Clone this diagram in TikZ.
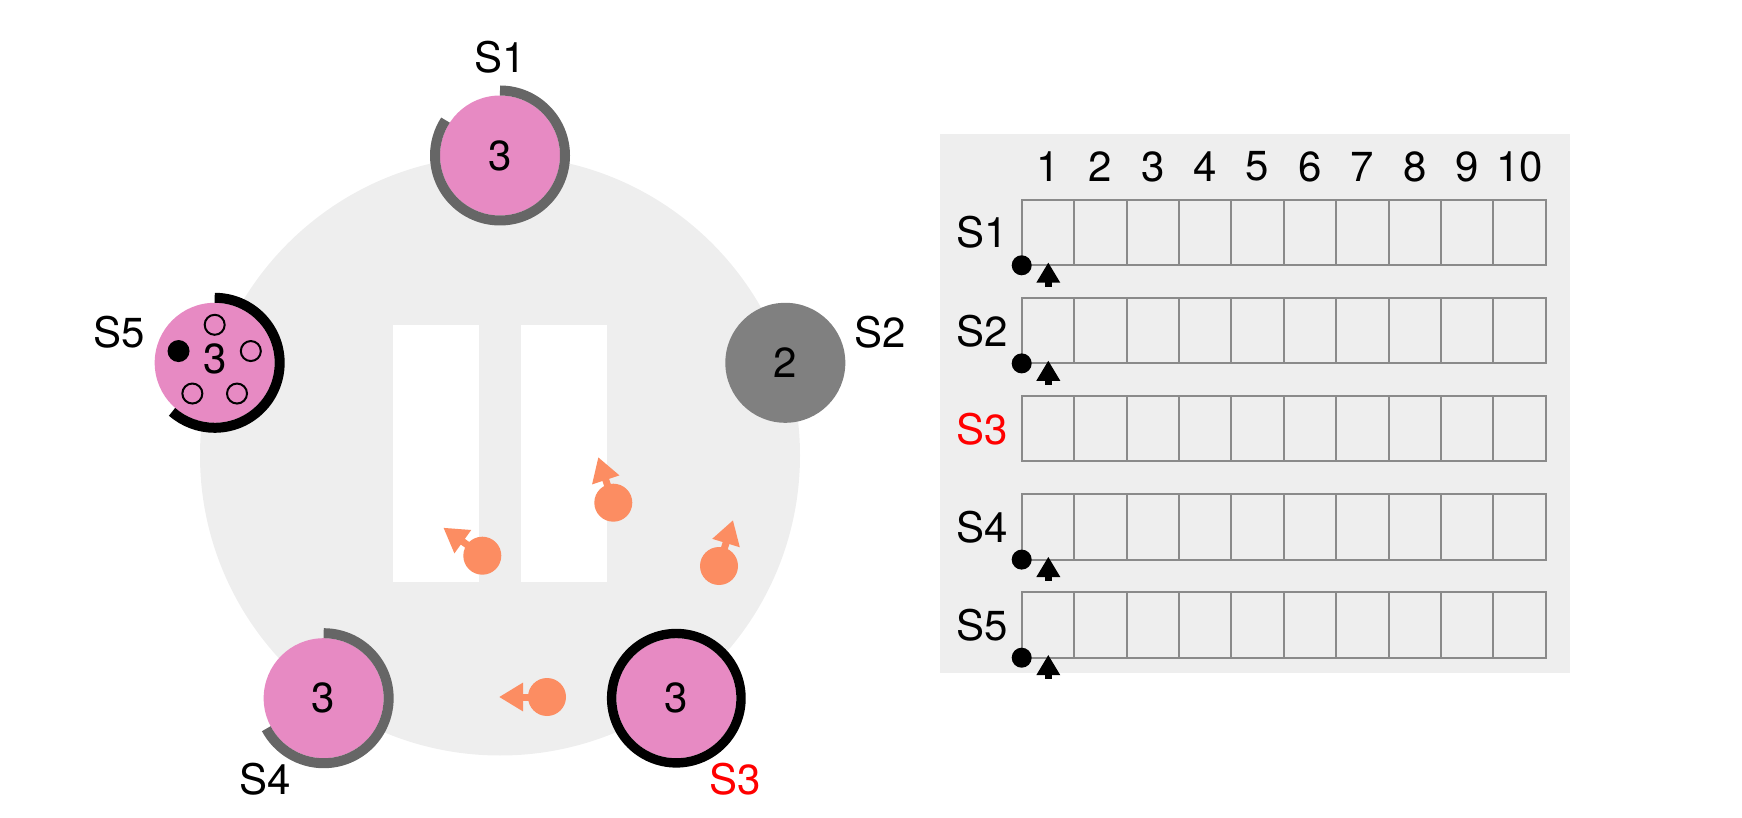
\documentclass[tikz,border=0pt]{standalone}
\usepackage{fontspec}
\setmainfont{TeX Gyre Heros}
\usetikzlibrary{arrows.meta}
\definecolor{pinkc}{HTML}{E78AC3}
\definecolor{orangec}{HTML}{FC8D62}
\definecolor{bgc}{HTML}{EEEEEE}
\definecolor{ringc}{HTML}{666666}
\definecolor{darkc}{HTML}{808080}
\definecolor{gridc}{HTML}{8A8A8A}
\begin{document}
\begin{tikzpicture}[x=0.5pt,y=-0.5pt,
  lbl/.style={font=\fontsize{21}{25}\selectfont, inner sep=0pt},
  srv/.style={circle, minimum size=60pt, inner sep=0pt, fill=pinkc, font=\fontsize{21}{25}\selectfont},
  ring/.style={line width=5pt},
  odot/.style={circle, fill=orangec, minimum size=19pt, inner sep=0pt},
  oarr/.style={orangec, line width=3.5pt, -{Triangle[length=12pt,width=13.5pt]}},
  cell/.style={gridc, line width=1pt}]
\useasboundingbox (0,0) rectangle (1742,818);
% ring area
\coordinate (C) at (500,455.5);
\fill[bgc] (C) circle[radius=150pt];
\fill[white] (392.7,325) rectangle (478.7,582.3);
\fill[white] (521.3,325) rectangle (607,582.3);
% servers
\node[srv] (S1) at ([shift={(90:150pt)}]C) {3};
\node[srv, fill=darkc] (S2) at ([shift={(18:150pt)}]C) {2};
\node[srv] (S3) at ([shift={(-54:150pt)}]C) {3};
\node[srv] (S4) at ([shift={(-126:150pt)}]C) {3};
\node[srv] (S5) at ([shift={(162:150pt)}]C) {};
\draw[ring, ringc] ([shift={(90:32.5pt)}]S1.center) arc[start angle=90, end angle=-213, radius=32.5pt];
\draw[black, line width=4.7pt] (S3.center) circle[radius=32.35pt];
\draw[ring, ringc] ([shift={(90:32.5pt)}]S4.center) arc[start angle=90, end angle=-152, radius=32.5pt];
\draw[ring, black] ([shift={(90:32.5pt)}]S5.center) arc[start angle=90, end angle=-131, radius=32.5pt];
\foreach \a in {90,18,-54,-126}{
  \draw[line width=1pt] ([shift={(\a:19pt)}]S5.center) circle[radius=5pt];
}
\fill ([shift={(162:19pt)}]S5.center) circle[radius=5.5pt];
\node[lbl] (S5n) at ([yshift=2pt]S5.center) {3};
% labels
\node[lbl] (L1) at ([shift={(90:199pt)}]C) {S1};
\node[lbl] (L2) at ([shift={(18:200pt)}]C) {S2};
\node[lbl, text=red] (L3) at ([shift={(-54:200pt)}]C) {S3};
\node[lbl] (L4) at ([shift={(-126:200pt)}]C) {S4};
\node[lbl] (L5) at ([shift={(162:200pt)}]C) {S5};
% moving dots
\node[odot] (D1) at (482.3,555.7) {};
\node[odot] (D2) at (613.3,502.7) {};
\node[odot] (D3) at (719,566) {};
\node[odot] (D4) at (547,697) {};
\draw[oarr] (D1.center) -- ++(144.3:24pt);
\draw[oarr] (D2.center) -- ++(108.3:24pt);
\draw[oarr] (D3.center) -- ++(73:24pt);
\draw[oarr] (D4.center) -- ++(180:24pt);
% table panel
\fill[bgc] (940,134) rectangle (1570,673.3);
\foreach \c in {1,...,10}{
  \node[lbl] (N\c) at ({1047.9+52.4*(\c-1)},166.7) {\c};
}
\foreach \r/\n/\col/\mk in {0/S1/black/1,1/S2/black/1,2/S3/red/0,3/S4/black/1,4/S5/black/1}{
  \pgfmathsetmacro\rowtop{200+98.1*\r}
  \pgfmathsetmacro\rowbot{\rowtop+65.3}
  \pgfmathsetmacro\rowmid{\rowtop+32.65}
  \foreach \c in {0,...,9}{
    \draw[cell] ({1021.7+52.4*\c},\rowtop) rectangle ++(52.4,65.3);
  }
  \node[lbl, anchor=east, text=\col] (R\n) at (1008,\rowmid) {\n};
  \ifnum\mk=1
    \fill (1021.7,\rowbot) circle[radius=5pt];
    \fill (1048.3,\rowbot-2.6) -- (1060.3,\rowbot+17.4) -- (1036.3,\rowbot+17.4) -- cycle;
    \fill (1044.95,\rowbot+16) rectangle (1051.65,\rowbot+21.5);
  \fi
}
\end{tikzpicture}
\end{document}
